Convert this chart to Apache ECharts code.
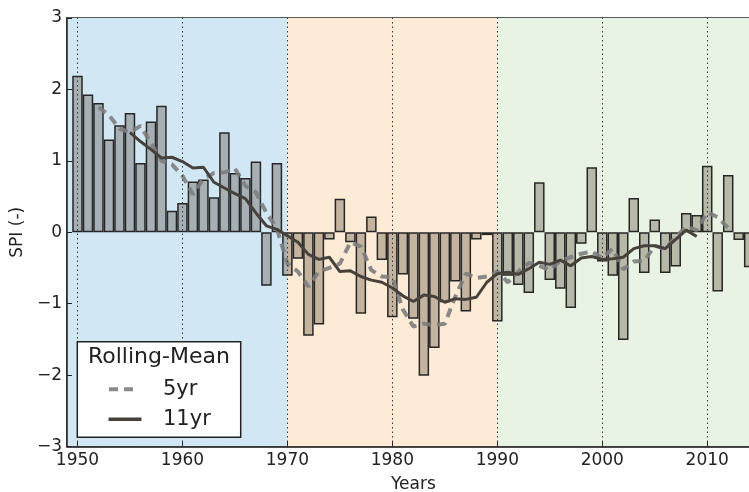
<!DOCTYPE html>
<html>
<head>
<meta charset="utf-8">
<script src="https://cdn.jsdelivr.net/npm/echarts@6/dist/echarts.min.js"></script>
<style>
  html, body { margin: 0; padding: 0; background: #fff; }
  #chart { width: 749px; height: 492px; }
</style>
</head>
<body>
<div id="chart"></div>
<script>
// Annual SPI, 1950-2014
const firstYear = 1950;
const spi = [
  2.19, 1.93, 1.81, 1.30, 1.50, 1.67, 0.97, 1.55, 1.77, 0.30,
  0.41, 0.71, 0.74, 0.49, 1.40, 0.83, 0.76, 0.99, -0.75, 0.97,
  -0.61, -0.37, -1.45, -1.29, -0.10, 0.47, -0.14, -1.14, 0.22, -0.39,
  -1.19, -0.59, -1.21, -2.01, -1.62, -0.98, -0.69, -1.11, -0.10, -0.04,
  -1.25, -0.61, -0.74, -0.85, 0.70, -0.67, -0.79, -1.06, -0.16, 0.91,
  -0.41, -0.61, -1.51, 0.48, -0.57, 0.18, -0.57, -0.48, 0.27, 0.24,
  0.93, -0.83, 0.80, -0.11, -0.49
];

// 5-year rolling mean, centred, 1952-2012
const roll5Start = 1952;
const roll5 = [
  1.75, 1.64, 1.45, 1.40, 1.49, 1.25, 1.00, 0.95, 0.79, 0.53,
  0.75, 0.83, 0.84, 0.89, 0.65, 0.56, 0.27, 0.05, -0.44, -0.55,
  -0.76, -0.55, -0.50, -0.44, -0.14, -0.20, -0.53, -0.62, -0.63, -1.08,
  -1.32, -1.28, -1.30, -1.28, -0.90, -0.58, -0.64, -0.62, -0.55, -0.70,
  -0.55, -0.43, -0.47, -0.53, -0.40, -0.35, -0.30, -0.27, -0.36, -0.23,
  -0.52, -0.41, -0.40, -0.19, -0.23, -0.07, 0.08, 0.03, 0.28, 0.21,
  0.06
];

// 11-year rolling mean, centred, 1955-2009
const roll11Start = 1955;
const roll11 = [
  1.40, 1.27, 1.16, 1.04, 1.05, 0.99, 0.90, 0.91, 0.70, 0.62,
  0.54, 0.47, 0.27, 0.09, 0.04, -0.05, -0.14, -0.31, -0.38, -0.35,
  -0.55, -0.54, -0.62, -0.67, -0.70, -0.78, -0.89, -0.97, -0.88, -0.90,
  -0.98, -0.93, -0.94, -0.91, -0.70, -0.58, -0.56, -0.59, -0.51, -0.42,
  -0.45, -0.39, -0.47, -0.36, -0.34, -0.38, -0.37, -0.35, -0.23, -0.19,
  -0.19, -0.23, -0.10, 0.03, -0.06
];

// Shaded periods
const periods = [
  { from: 1949, to: 1970, color: '#d2e7f4' },
  { from: 1970, to: 1990, color: '#fdebd5' },
  { from: 1990, to: 2015, color: '#e9f3e3' }
];

const xTicks = [1950, 1960, 1970, 1980, 1990, 2000, 2010];

const legendTitle = 'Rolling-Mean';
const legendNames = ['5yr', '11yr'];

const pairs = (start, arr) => arr.map((v, i) => [start + i, v]);

const FONT = 'DejaVu Sans';
const INK = '#222';
const DASH_COLOR = '#7d7d7d';
const SOLID_COLOR = '#46413b';

const chart = echarts.init(document.getElementById('chart'), null, { renderer: 'canvas' });

// Legend box drawn as a small graphic panel in the lower-left corner
const legendGraphic = [
  {
    type: 'rect', z: 10,
    shape: { x: 77.3, y: 341.7, width: 163.4, height: 95.6 },
    style: { fill: '#fff', stroke: INK, lineWidth: 1.5 }
  },
  {
    type: 'text', z: 11, x: 88, y: 357,
    style: { text: legendTitle, fontSize: 22, fontFamily: FONT, fill: INK, verticalAlign: 'middle' }
  },
  {
    type: 'line', z: 11,
    shape: { x1: 109, y1: 389.3, x2: 133, y2: 389.3 },
    style: { stroke: DASH_COLOR, lineWidth: 4, lineDash: [9, 6], opacity: 0.9 }
  },
  {
    type: 'text', z: 11, x: 163, y: 390,
    style: { text: legendNames[0], fontSize: 21, fontFamily: FONT, fill: INK, verticalAlign: 'middle' }
  },
  {
    type: 'line', z: 11,
    shape: { x1: 108.5, y1: 419.3, x2: 141.5, y2: 419.3 },
    style: { stroke: SOLID_COLOR, lineWidth: 3.5 }
  },
  {
    type: 'text', z: 11, x: 163, y: 420,
    style: { text: legendNames[1], fontSize: 21, fontFamily: FONT, fill: INK, verticalAlign: 'middle' }
  }
];

chart.setOption({
  animation: false,
  backgroundColor: '#fff',
  textStyle: { fontFamily: FONT, color: INK },
  grid: {
    left: 67, top: 18, bottom: 45.5, right: -10.7,
    containLabel: false,
    outerBoundsMode: 'none',
    show: true, borderColor: INK, borderWidth: 1.5,
    backgroundColor: 'transparent'
  },
  xAxis: {
    type: 'value',
    min: 1949, max: 2015,
    z: 1,
    name: 'Years',
    nameLocation: 'middle',
    nameGap: 30,
    nameTextStyle: { fontSize: 17, color: INK, fontFamily: FONT },
    axisLine: { show: true, onZero: false, lineStyle: { color: INK, width: 1.5 } },
    axisTick: { show: true, inside: true, length: 5, customValues: xTicks, lineStyle: { color: INK, width: 1 } },
    axisLabel: {
      customValues: xTicks, fontSize: 17, color: INK, fontFamily: FONT, margin: 6,
      formatter: v => String(v)
    },
    splitLine: { show: false }
  },
  yAxis: {
    type: 'value',
    min: -3, max: 3, interval: 1,
    z: 1,
    name: 'SPI (-)',
    nameLocation: 'middle',
    nameGap: 34,
    nameRotate: 90,
    nameTextStyle: { fontSize: 17, color: INK, fontFamily: FONT },
    axisLine: { show: true, onZero: false, lineStyle: { color: INK, width: 1.5 } },
    axisTick: { show: true, inside: true, length: 5, lineStyle: { color: INK, width: 1 } },
    axisLabel: {
      fontSize: 17, color: INK, fontFamily: FONT, margin: 5,
      formatter: v => (v < 0 ? '\u2212' + Math.abs(v) : String(v))
    },
    splitLine: { show: true, lineStyle: { color: '#333', width: 1, type: [1.5, 3] } }
  },
  graphic: legendGraphic,
  series: [
    {
      // period shading
      name: 'periods', type: 'line', data: [], z: 0, silent: true,
      markArea: {
        silent: true,
        data: periods.map(p => [
          { xAxis: p.from, itemStyle: { color: p.color } },
          { xAxis: p.to }
        ])
      }
    },
    {
      // vertical dotted grid at the labelled years
      name: 'xgrid', type: 'line', data: [], z: 1, silent: true,
      markLine: {
        silent: true, symbol: 'none', label: { show: false },
        lineStyle: { color: '#333', width: 1, type: [1.5, 3] },
        data: xTicks.map(x => ({ xAxis: x }))
      }
    },
    {
      name: 'SPI', type: 'bar', z: 2,
      data: pairs(firstYear, spi),
      barWidth: '100%',
      barCategoryGap: 0,
      itemStyle: { color: 'rgba(67,51,34,0.3)', borderColor: '#262626', borderWidth: 1.5 }
    },
    {
      name: legendNames[0], type: 'line', z: 4,
      data: pairs(roll5Start, roll5),
      symbol: 'none',
      lineStyle: { color: DASH_COLOR, width: 4, type: [9, 6], opacity: 0.9 }
    },
    {
      name: legendNames[1], type: 'line', z: 5,
      data: pairs(roll11Start, roll11),
      symbol: 'none',
      lineStyle: { color: SOLID_COLOR, width: 3 }
    }
  ]
});
</script>
</body>
</html>
